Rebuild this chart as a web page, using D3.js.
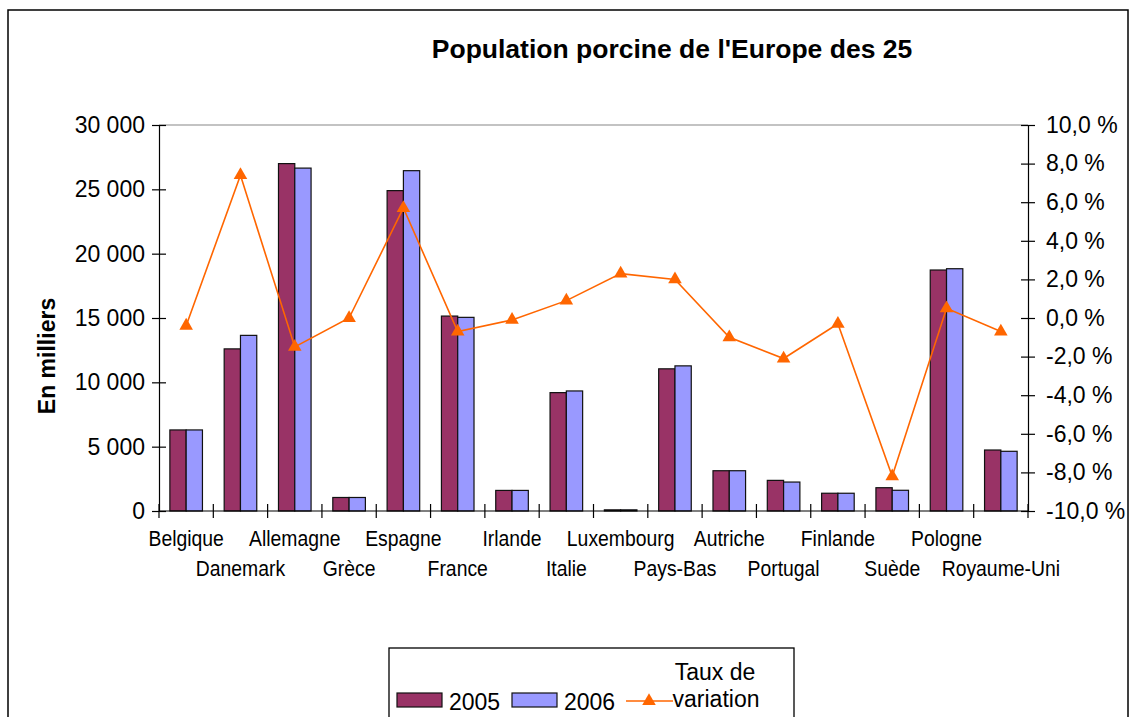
<!DOCTYPE html>
<html><head><meta charset="utf-8">
<script src="https://cdn.jsdelivr.net/npm/d3@7"></script>
<style>
html,body{margin:0;padding:0;background:#fff;}
text{font-family:"Liberation Sans",Arial,sans-serif;fill:#000;}
</style></head>
<body><svg id="c" width="1130" height="717"></svg>
<script>
const categories = ["Belgique","Danemark","Allemagne","Grèce","Espagne","France","Irlande","Italie","Luxembourg","Pays-Bas","Autriche","Portugal","Finlande","Suède","Pologne","Royaume-Uni"];
const values2005 = [6300, 12600, 27000, 1050, 24900, 15150, 1600, 9200, 90, 11050, 3130, 2380, 1380, 1810, 18730, 4740];
const values2006 = [6300, 13650, 26650, 1050, 26450, 15050, 1600, 9330, 90, 11280, 3130, 2250, 1380, 1610, 18830, 4640];
const variation = [-0.4, 7.4, -1.5, 0.0, 5.7, -0.7, -0.1, 0.9, 2.3, 2.0, -1.0, -2.1, -0.3, -8.2, 0.5, -0.7];
const leftTicks = [0, 5000, 10000, 15000, 20000, 25000, 30000];
const rightTicks = [-10, -8, -6, -4, -2, 0, 2, 4, 6, 8, 10];
const seriesNames = ["2005", "2006"];
const title = "Population porcine de l'Europe des 25";
const yTitle = "En milliers";
const lineName = ["Taux de", "variation"];

const C2005 = "#993366", C2006 = "#9999FF", CLINE = "#FF6600";
const svg = d3.select("#c");
const L = 159, R = 1028, T = 125, B = 511;

svg.append("rect").attr("x",0).attr("y",0).attr("width",1130).attr("height",717).attr("fill","#fff");
svg.append("rect").attr("x",8).attr("y",10).attr("width",1120).attr("height",720)
  .attr("fill","none").attr("stroke","#000").attr("stroke-width",1.5);

const x = d3.scaleBand().domain(categories).range([L, R]).padding(0);
const xs = d3.scaleBand().domain(seriesNames).range([x.bandwidth()*0.2, x.bandwidth()*0.8]).padding(0);
const yL = d3.scaleLinear().domain([0, 30000]).range([B, T]);
const yR = d3.scaleLinear().domain([-10, 10]).range([B, T]);

const fmtL = v => d3.format(",")(v).replace(/,/g, "\u00a0");
const fmtR = v => d3.format(".1f")(v).replace(".", ",").replace("−","-") + "\u00a0%";

// top border of plot
svg.append("line").attr("x1",L).attr("x2",R).attr("y1",T).attr("y2",T).attr("stroke","#888").attr("stroke-width",1.2);

// bars
const data = categories.map((c,i)=>({c, vals:[values2005[i], values2006[i]]}));
const g = svg.append("g");
data.forEach(d=>{
  d.vals.forEach((v,j)=>{
    g.append("rect")
      .attr("x", x(d.c) + xs(seriesNames[j]))
      .attr("y", yL(v))
      .attr("width", xs.bandwidth())
      .attr("height", B - yL(v))
      .attr("fill", j===0 ? C2005 : C2006)
      .attr("stroke", "#111").attr("stroke-width", 1.2);
  });
});

// left axis
const axL = svg.append("g").attr("transform",`translate(${L},0)`)
  .call(d3.axisLeft(yL).tickValues(leftTicks).tickFormat(fmtL).tickSize(7).tickPadding(7));
axL.select(".domain").attr("stroke","#000").attr("stroke-width",1.2);
axL.selectAll(".tick line").attr("x2",7).attr("x1",-7).attr("stroke","#000").attr("stroke-width",1.2);
axL.selectAll(".tick text").attr("font-size","23px").attr("font-family","Liberation Sans, Arial, sans-serif").attr("fill","#000").attr("x",-14);

// right axis
const axR = svg.append("g").attr("transform",`translate(${R},0)`)
  .call(d3.axisRight(yR).tickValues(rightTicks).tickFormat(fmtR).tickSize(7).tickPadding(11));
axR.select(".domain").attr("stroke","#000").attr("stroke-width",1.2);
axR.selectAll(".tick line").attr("x1",-7).attr("x2",7).attr("stroke","#000").attr("stroke-width",1.2);
axR.selectAll(".tick text").attr("font-size","23px").attr("font-family","Liberation Sans, Arial, sans-serif").attr("fill","#000").attr("x",18);

// bottom axis
svg.append("line").attr("x1",L).attr("x2",R).attr("y1",B).attr("y2",B).attr("stroke","#000").attr("stroke-width",1.2);
const bounds = categories.map(c=>x(c)).concat([R]);
svg.append("g").selectAll("line").data(bounds).join("line")
  .attr("x1",d=>d).attr("x2",d=>d).attr("y1",B-7).attr("y2",B+7).attr("stroke","#000").attr("stroke-width",1.2);
svg.append("g").selectAll("text").data(categories).join("text")
  .attr("transform", (d,i)=>`translate(${x(d)+x.bandwidth()/2},${i%2===0 ? 546 : 576}) scale(0.88,1)`)
  .attr("text-anchor","middle").attr("font-size","22px")
  .text(d=>d);

// line
const lineGen = d3.line().x((d,i)=>x(categories[i])+x.bandwidth()/2).y(d=>yR(d));
svg.append("path").datum(variation).attr("d", lineGen).attr("fill","none").attr("stroke",CLINE).attr("stroke-width",1.6);
const tri = d3.symbol().type(d3.symbolTriangle).size(80);
svg.append("g").selectAll("path").data(variation).join("path")
  .attr("d", tri)
  .attr("transform",(d,i)=>`translate(${x(categories[i])+x.bandwidth()/2},${yR(d)})`)
  .attr("fill",CLINE);

// titles
svg.append("text").attr("x",672).attr("y",58).attr("text-anchor","middle")
  .attr("font-size","26.5px").attr("font-weight","bold").text(title);
svg.append("text").attr("transform","translate(55,356) rotate(-90)").attr("text-anchor","middle")
  .attr("font-size","23px").attr("font-weight","bold").text(yTitle);

// legend
const lg = svg.append("g");
lg.append("rect").attr("x",389).attr("y",648).attr("width",405).attr("height",100)
  .attr("fill","#fff").attr("stroke","#000").attr("stroke-width",1.3);
[[397, C2005, 449],[512, C2006, 564]].forEach((p,j)=>{
  lg.append("rect").attr("x",p[0]).attr("y",693).attr("width",45).attr("height",14)
    .attr("fill",p[1]).attr("stroke","#111").attr("stroke-width",1.2);
  lg.append("text").attr("x",p[2]).attr("y",710).attr("font-size","23px").text(seriesNames[j]);
});
lg.append("line").attr("x1",626).attr("x2",673).attr("y1",701).attr("y2",701).attr("stroke",CLINE).attr("stroke-width",1.6);
lg.append("path").attr("d",tri).attr("transform","translate(649,701)").attr("fill",CLINE);
lg.append("text").attr("x",715).attr("y",680).attr("text-anchor","middle").attr("font-size","23px").text(lineName[0]);
lg.append("text").attr("x",716).attr("y",707).attr("text-anchor","middle").attr("font-size","23px").text(lineName[1]);
</script></body></html>
